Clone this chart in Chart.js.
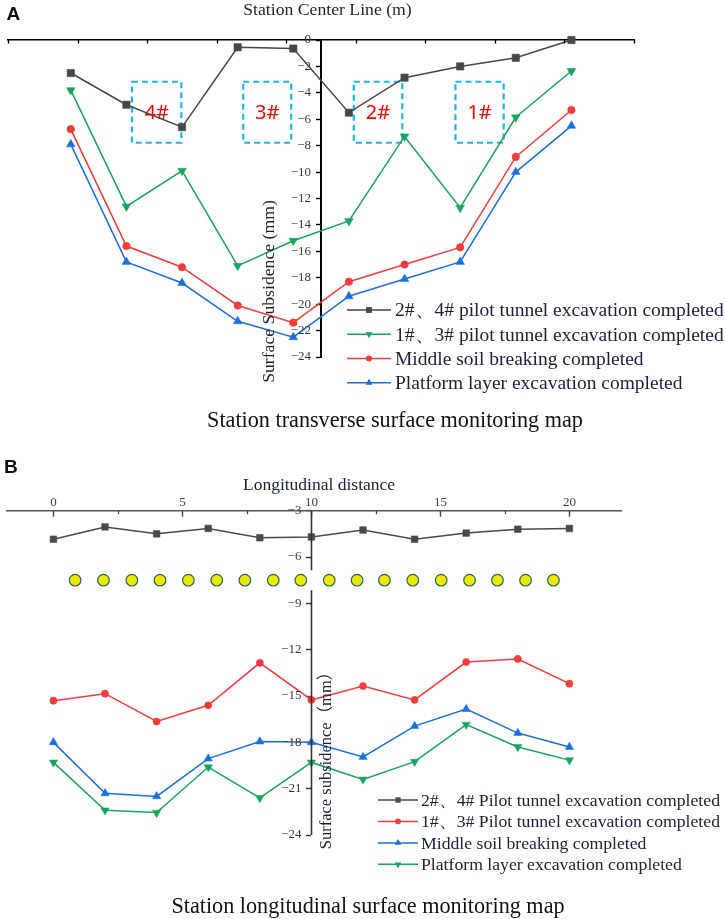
<!DOCTYPE html>
<html><head><meta charset="utf-8">
<script src="https://cdn.jsdelivr.net/npm/chart.js@4.4.1/dist/chart.umd.min.js"></script>
<style>
html,body{margin:0;padding:0;background:#fff;}
#wrap{position:relative;width:726px;height:919px;overflow:hidden;background:#fff;}
#ca{position:absolute;left:0;top:0;}
#cb{position:absolute;left:0;top:440px;}
</style></head><body>
<div id="wrap">
<canvas id="ca" width="726" height="440"></canvas>
<canvas id="cb" width="726" height="479"></canvas>
</div>
<script>
// ---------------- DATA (A: transverse) ----------------
const transverseX = [-18, -14, -10, -6, -2, 2, 6, 10, 14, 18];
const transPilot24 = [-2.5, -4.9, -6.6, -0.55, -0.65, -5.5, -2.85, -2.0, -1.35, 0];
const transPilot13 = [-3.8, -12.6, -9.9, -17.1, -15.2, -13.7, -7.3, -12.7, -5.85, -2.35];
const transMiddle = [-6.75, -15.6, -17.2, -20.1, -21.4, -18.3, -17.0, -15.7, -8.85, -5.3];
const transPlatform = [-7.9, -16.8, -18.4, -21.3, -22.5, -19.4, -18.1, -16.8, -10.0, -6.5];
const tunnelLabels = ['4#', '3#', '2#', '1#'];
const tunnelLeft = [-13.6, -5.6, 2.35, 9.66];
const tunnelRight = [-10.05, -2.15, 5.84, 13.13];
const tunnelTop = -3.16;
const tunnelBottom = -7.78;
const seriesNamesA = ['2#\u30014# pilot tunnel excavation completed', '1#\u30013# pilot tunnel excavation completed', 'Middle soil breaking completed', 'Platform layer excavation completed'];

// ---------------- DATA (B: longitudinal) ----------------
const longX = [0, 2, 4, 6, 8, 10, 12, 14, 16, 18, 20];
const longPilot24 = [-4.85, -4.05, -4.5, -4.15, -4.75, -4.7, -4.25, -4.85, -4.45, -4.2, -4.15];
const longPilot13 = [-15.3, -14.85, -16.65, -15.6, -12.85, -15.25, -14.35, -15.25, -12.8, -12.6, -14.2];
const longMiddle = [-18.0, -21.3, -21.5, -19.05, -17.95, -18.0, -18.95, -16.95, -15.85, -17.4, -18.3];
const longPlatform = [-19.3, -22.4, -22.55, -19.6, -21.6, -19.3, -20.4, -19.25, -16.85, -18.3, -19.15];
const shaftX = [0.84, 1.94, 3.04, 4.13, 5.23, 6.33, 7.42, 8.52, 9.59, 10.69, 11.77, 12.83, 13.93, 15.03, 16.13, 17.21, 18.3, 19.38];
const shaftY = -7.5;
const seriesNamesB = ['2#\u30014# Pilot tunnel excavation completed', '1#\u30013# Pilot tunnel excavation completed', 'Middle soil breaking completed', 'Platform layer excavation completed'];

// ---------------- helpers ----------------
const TXT = '#1b2036';
const SERIF = '"Liberation Serif", "Times New Roman", serif';
const fmt = v => (v < 0 ? '\u2212' : '') + Math.abs(Math.round(v * 100) / 100);
const isMult = (v, m) => Math.abs(v / m - Math.round(v / m)) < 1e-6;
const zip = (xs, ys) => xs.map((x, i) => ({x: x, y: ys[i]}));

function marker(ctx, style, rot, r, x, y) {
  ctx.beginPath();
  if (style === 'rect') {
    const s = r * Math.SQRT1_2;
    ctx.rect(x - s, y - s, 2 * s, 2 * s);
  } else if (style === 'circle') {
    ctx.arc(x, y, r, 0, Math.PI * 2);
  } else {
    let a = rot * Math.PI / 180;
    ctx.moveTo(x + Math.sin(a) * r, y - Math.cos(a) * r);
    a += 2 * Math.PI / 3;
    ctx.lineTo(x + Math.sin(a) * r, y - Math.cos(a) * r);
    a += 2 * Math.PI / 3;
    ctx.lineTo(x + Math.sin(a) * r, y - Math.cos(a) * r);
    ctx.closePath();
  }
  ctx.fill();
}

function drawLegend(chart, order, names, cfg) {
  const ctx = chart.ctx;
  ctx.save();
  order.forEach((di, k) => {
    const ds = chart.data.datasets[di];
    const yy = cfg.y0 + k * cfg.dy;
    ctx.strokeStyle = ds.borderColor; ctx.lineWidth = 1.5;
    ctx.beginPath(); ctx.moveTo(cfg.x0, yy); ctx.lineTo(cfg.x1, yy); ctx.stroke();
    ctx.fillStyle = ds.pointBackgroundColor;
    marker(ctx, ds.pointStyle, ds.pointRotation || 0, ds.pointRadius * cfg.ms, cfg.mx, yy);
    ctx.fillStyle = TXT;
    ctx.font = cfg.size + 'px ' + SERIF;
    ctx.textAlign = 'left'; ctx.textBaseline = 'alphabetic';
    ctx.fillText(names[k], cfg.tx, yy + 0.33 * cfg.size);
  });
  ctx.restore();
}

function drawMinorX(chart, values, len, color) {
  const {ctx, scales: {x}, chartArea} = chart;
  ctx.save();
  ctx.strokeStyle = color; ctx.lineWidth = 1.3;
  values.forEach(v => {
    const px = Math.round(x.getPixelForValue(v)) + 0.5;
    ctx.beginPath(); ctx.moveTo(px, chartArea.top); ctx.lineTo(px, chartArea.top + len); ctx.stroke();
  });
  ctx.restore();
}

// y tick labels of a centred axis, placed left of the axis line
function drawYLabels(chart, atX, offset, color) {
  const {ctx, scales: {x, y}} = chart;
  const ax = x.getPixelForValue(atX);
  ctx.save();
  ctx.font = '13px ' + SERIF; ctx.fillStyle = color;
  ctx.textAlign = 'right'; ctx.textBaseline = 'middle';
  y.ticks.forEach(t => {
    ctx.fillText(fmt(t.value), ax - offset, y.getPixelForValue(t.value));
  });
  ctx.restore();
}

function txt(ctx, s, x, y, font, color, align, rot) {
  ctx.save();
  ctx.font = font; ctx.fillStyle = color; ctx.textAlign = align || 'center'; ctx.textBaseline = 'alphabetic';
  ctx.translate(x, y);
  if (rot) ctx.rotate(rot);
  ctx.fillText(s, 0, 0);
  ctx.restore();
}

const decorA = {
  id: 'decorA',
  beforeDatasetsDraw(chart) {
    const {ctx, scales: {x, y}} = chart;
    ctx.save();
    for (let i = 0; i < tunnelLabels.length; i++) {
      const x0 = x.getPixelForValue(tunnelLeft[i]), x1 = x.getPixelForValue(tunnelRight[i]);
      const y0 = y.getPixelForValue(tunnelTop), y1 = y.getPixelForValue(tunnelBottom);
      ctx.setLineDash([6, 4]); ctx.lineWidth = 2.2; ctx.strokeStyle = '#1db5ec';
      ctx.strokeRect(x0, y0, x1 - x0, y1 - y0);
      ctx.setLineDash([]);
      ctx.fillStyle = '#ff0000'; ctx.font = '20px "Noto Sans", "Liberation Sans", sans-serif';
      ctx.textAlign = 'center'; ctx.textBaseline = 'middle';
      ctx.fillText(tunnelLabels[i], (x0 + x1) / 2, (y0 + y1) / 2 + 1);
    }
    ctx.restore();
  },
  afterDraw(chart) {
    const ctx = chart.ctx;
    drawMinorX(chart, [-22.5, -17.5, -12.5, -7.5, -2.5, 2.5, 7.5, 12.5, 17.5, 22.5], 3.5, '#000');
    drawYLabels(chart, 0, 10, '#3a3a3a');
    drawLegend(chart, [0, 1, 2, 3], seriesNamesA, {x0: 347, x1: 391, mx: 369, tx: 395, y0: 310, dy: 24.25, size: 19.5, ms: 0.8});
    txt(ctx, 'Station Center Line (m)', 327.5, 15, '17.7px ' + SERIF, TXT, 'center');
    txt(ctx, 'Surface Subsidence (mm)', 274, 291.5, '17.7px ' + SERIF, TXT, 'center', -Math.PI / 2);
    txt(ctx, 'Station transverse surface monitoring map', 395, 427, '22.2px ' + SERIF, '#111', 'center');
    txt(ctx, 'A', 6.5, 19.5, 'bold 19px "Liberation Sans", Arial, sans-serif', '#111', 'left');
  }
};

const decorB = {
  id: 'decorB',
  afterDraw(chart) {
    const {ctx, scales: {x, y}} = chart;
    drawMinorX(chart, [2.5, 7.5, 12.5, 17.5], 3.5, '#444');
    // y axis line with a gap at the shaft row
    const ax = Math.round(x.getPixelForValue(10)) + 0.5;
    ctx.save();
    ctx.strokeStyle = '#333'; ctx.lineWidth = 1.6;
    ctx.beginPath();
    ctx.moveTo(ax, y.getPixelForValue(-3)); ctx.lineTo(ax, y.getPixelForValue(-6.85));
    ctx.moveTo(ax, y.getPixelForValue(-8.15)); ctx.lineTo(ax, y.getPixelForValue(-24));
    ctx.stroke();
    ctx.restore();
    drawYLabels(chart, 10, 10, '#3a3a3a');
    drawLegend(chart, [0, 1, 2, 3], seriesNamesB, {x0: 378, x1: 418, mx: 398, tx: 421, y0: 360, dy: 21.45, size: 17.7, ms: 0.8});
    txt(ctx, 'Longitudinal distance', 319, 50, '17.5px ' + SERIF, TXT, 'center');
    txt(ctx, 'Surface subsidence\uff08mm\uff09', 331, 316.5, '16.5px ' + SERIF + ', "Noto Sans CJK SC"', TXT, 'center', -Math.PI / 2);
    txt(ctx, 'Station longitudinal surface monitoring map', 368, 473, '22.2px ' + SERIF, '#111', 'center');
    txt(ctx, 'B', 4, 33, 'bold 19px "Liberation Sans", Arial, sans-serif', '#111', 'left');
  }
};

function lineDs(label, xs, ys, color, style, rot, r) {
  return {
    label: label, data: zip(xs, ys), borderColor: color, backgroundColor: color,
    pointBackgroundColor: color, pointBorderColor: color, pointBorderWidth: 0.5,
    pointStyle: style, pointRotation: rot, pointRadius: r, borderWidth: 1.5,
    tension: 0, clip: false, showLine: true
  };
}

Chart.defaults.animation = false;
Chart.defaults.events = [];

// ---------------- Chart A ----------------
new Chart(document.getElementById('ca'), {
  type: 'line',
  data: {
    datasets: [
      lineDs(seriesNamesA[0], transverseX, transPilot24, '#474747', 'rect', 0, 5.2),
      lineDs(seriesNamesA[1], transverseX, transPilot13, '#17a55c', 'triangle', 180, 5),
      lineDs(seriesNamesA[2], transverseX, transMiddle, '#f43c3c', 'circle', 0, 3.8),
      lineDs(seriesNamesA[3], transverseX, transPlatform, '#1b6fe0', 'triangle', 0, 5)
    ]
  },
  options: {
    responsive: false, devicePixelRatio: 1,
    layout: {padding: {left: 7, right: 92, top: 0, bottom: 83}},
    plugins: {legend: {display: false}, tooltip: {enabled: false}},
    scales: {
      x: {
        type: 'linear', position: 'top', min: -22.5, max: 22.5,
        afterFit: s => { s.height = 40; },
        ticks: {stepSize: 5, autoSkip: false, maxRotation: 0, padding: 8.2,
          font: {family: SERIF, size: 13}, color: '#3a3a3a',
          callback: v => isMult(v, 5) ? fmt(v) : ''},
        grid: {drawOnChartArea: false, tickLength: -6, tickWidth: 1.4,
          color: c => (c.tick && isMult(c.tick.value, 5)) ? '#000' : 'rgba(0,0,0,0)'},
        border: {color: '#000', width: 1.6}
      },
      y: {
        type: 'linear', position: {x: 0}, min: -24, max: 0,
        ticks: {stepSize: 2, display: false},
        grid: {drawOnChartArea: false, tickLength: 4, tickWidth: 1.4, color: '#000'},
        border: {color: '#000', width: 2}
      }
    }
  },
  plugins: [decorA]
});

// ---------------- Chart B ----------------
new Chart(document.getElementById('cb'), {
  type: 'line',
  data: {
    datasets: [
      lineDs(seriesNamesB[0], longX, longPilot24, '#4a4a4a', 'rect', 0, 4.7),
      lineDs(seriesNamesB[1], longX, longPilot13, '#f43c3c', 'circle', 0, 3.6),
      lineDs(seriesNamesB[2], longX, longMiddle, '#1b6fe0', 'triangle', 0, 4.8),
      lineDs(seriesNamesB[3], longX, longPlatform, '#17a55c', 'triangle', 180, 4.8),
      {label: 'shafts', data: shaftX.map(v => ({x: v, y: shaftY})), showLine: false,
        pointStyle: 'circle', pointRadius: 5.8, pointBackgroundColor: '#ece800',
        pointBorderColor: '#23685a', pointBorderWidth: 1.2, clip: false}
    ]
  },
  options: {
    responsive: false, devicePixelRatio: 1,
    layout: {padding: {left: 7, right: 105, top: 0, bottom: 84}},
    plugins: {legend: {display: false}, tooltip: {enabled: false}},
    scales: {
      x: {
        type: 'linear', position: 'top', min: -1.8, max: 22,
        afterFit: s => { s.height = 70.7; },
        ticks: {stepSize: 5, autoSkip: false, maxRotation: 0, padding: 6.4,
          font: {family: SERIF, size: 13}, color: '#3a4258',
          callback: v => isMult(v, 5) ? fmt(v) : ''},
        grid: {drawOnChartArea: false, tickLength: -6, tickWidth: 1.4,
          color: c => (c.tick && isMult(c.tick.value, 5)) ? '#444' : 'rgba(0,0,0,0)'},
        border: {color: '#555', width: 1.6}
      },
      y: {
        type: 'linear', position: {x: 10}, min: -24, max: -3,
        ticks: {stepSize: 3, display: false},
        grid: {drawOnChartArea: false, tickLength: 5, tickWidth: 1.4, color: '#333'},
        border: {display: false}
      }
    }
  },
  plugins: [decorB]
});
</script>
</body></html>
